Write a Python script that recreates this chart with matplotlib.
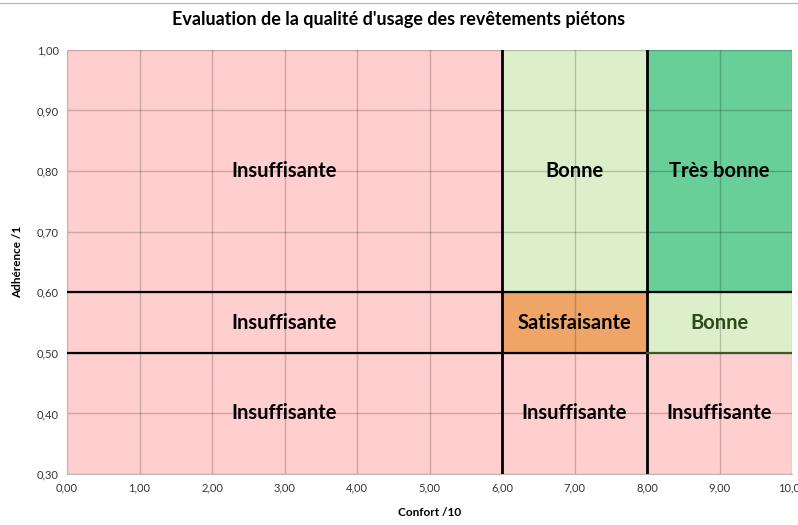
import matplotlib
matplotlib.use("Agg")
import matplotlib.pyplot as plt
from matplotlib.patches import Rectangle

plt.rcParams['font.family'] = ['Lato', 'DejaVu Sans']

# zones : confort (x) et adhérence (y)
zone_x0 = [0, 6, 8, 0, 6, 8, 0, 6, 8]
zone_x1 = [6, 8, 10, 6, 8, 10, 6, 8, 10]
zone_y0 = [0.6, 0.6, 0.6, 0.5, 0.5, 0.5, 0.3, 0.3, 0.3]
zone_y1 = [1.0, 1.0, 1.0, 0.6, 0.6, 0.6, 0.5, 0.5, 0.5]
zone_label = ["Insuffisante", "Bonne", "Très bonne",
              "Insuffisante", "Satisfaisante", "Bonne",
              "Insuffisante", "Insuffisante", "Insuffisante"]

# position des étiquettes
label_x = [3, 7, 9, 3, 7, 9, 3, 7, 9]
label_y = [0.80, 0.80, 0.80, 0.55, 0.55, 0.55, 0.40, 0.40, 0.40]

x_ticks = [0, 1, 2, 3, 4, 5, 6, 7, 8, 9, 10]
y_ticks = [0.3, 0.4, 0.5, 0.6, 0.7, 0.8, 0.9, 1.0]

colors = {
    "Insuffisante": "#ffcfcf",
    "Satisfaisante": "#eea567",
    "Bonne": "#dcefca",
    "Très bonne": "#67cf97",
}

fig = plt.figure(figsize=(7.98, 5.25), dpi=100)
ax = fig.add_axes([0.084, 0.097, 0.9085, 0.808])

for i in range(len(zone_label)):
    ax.add_patch(Rectangle((zone_x0[i], zone_y0[i]), zone_x1[i] - zone_x0[i],
                           zone_y1[i] - zone_y0[i],
                           facecolor=colors[zone_label[i]], edgecolor='none', zorder=0))
    tc = '#2e4a1c' if (zone_label[i] == "Bonne" and zone_y0[i] == 0.5) else 'black'
    ax.text(label_x[i], label_y[i], zone_label[i], ha='center', va='center',
            fontsize=14.5, fontweight='bold', color=tc, zorder=5)

# grille
for x in x_ticks:
    ax.axvline(x, color='black', alpha=0.2, lw=1, zorder=1)
for y in y_ticks:
    ax.axhline(y, color='black', alpha=0.2, lw=1, zorder=1)

# limites des classes
ax.axvline(6, color='black', lw=2, zorder=3)
ax.axvline(8, color='black', lw=2, zorder=3)
ax.axhline(0.6, color='black', lw=1.6, zorder=3)
ax.plot([0, 8], [0.5, 0.5], color='black', lw=1.6, zorder=3)
ax.plot([8, 10], [0.5, 0.5], color='#3a5a2a', lw=1.6, zorder=3)

ax.set_xlim(0, 10)
ax.set_ylim(0.3, 1.0)
ax.set_xticks(x_ticks)
ax.set_yticks(y_ticks)
ax.set_xticklabels([f"{v:.2f}".replace('.', ',') for v in x_ticks], fontsize=8)
ax.set_yticklabels([f"{v:.2f}".replace('.', ',') for v in y_ticks], fontsize=8)
ax.tick_params(length=0, pad=6, colors='#333333')
for s in ax.spines.values():
    s.set_visible(False)
ax.spines['left'].set_visible(True)
ax.spines['left'].set_color('#bbbbbb')
ax.spines['bottom'].set_visible(True)
ax.spines['bottom'].set_color('#bbbbbb')

ax.set_xlabel("Confort /10", fontsize=8.5, fontweight='bold', labelpad=10)
ax.set_ylabel("Adhérence /1", fontsize=8.5, fontweight='bold', labelpad=10)
fig.text(0.5, 0.962, "Evaluation de la qualité d'usage des revêtements piétons",
         ha='center', va='center', fontsize=13, fontweight='bold')

fig.add_artist(plt.Line2D([0, 1], [0.994, 0.994], color='#bbbbbb', lw=1,
                          transform=fig.transFigure))

fig.savefig("out.png", dpi=100)
